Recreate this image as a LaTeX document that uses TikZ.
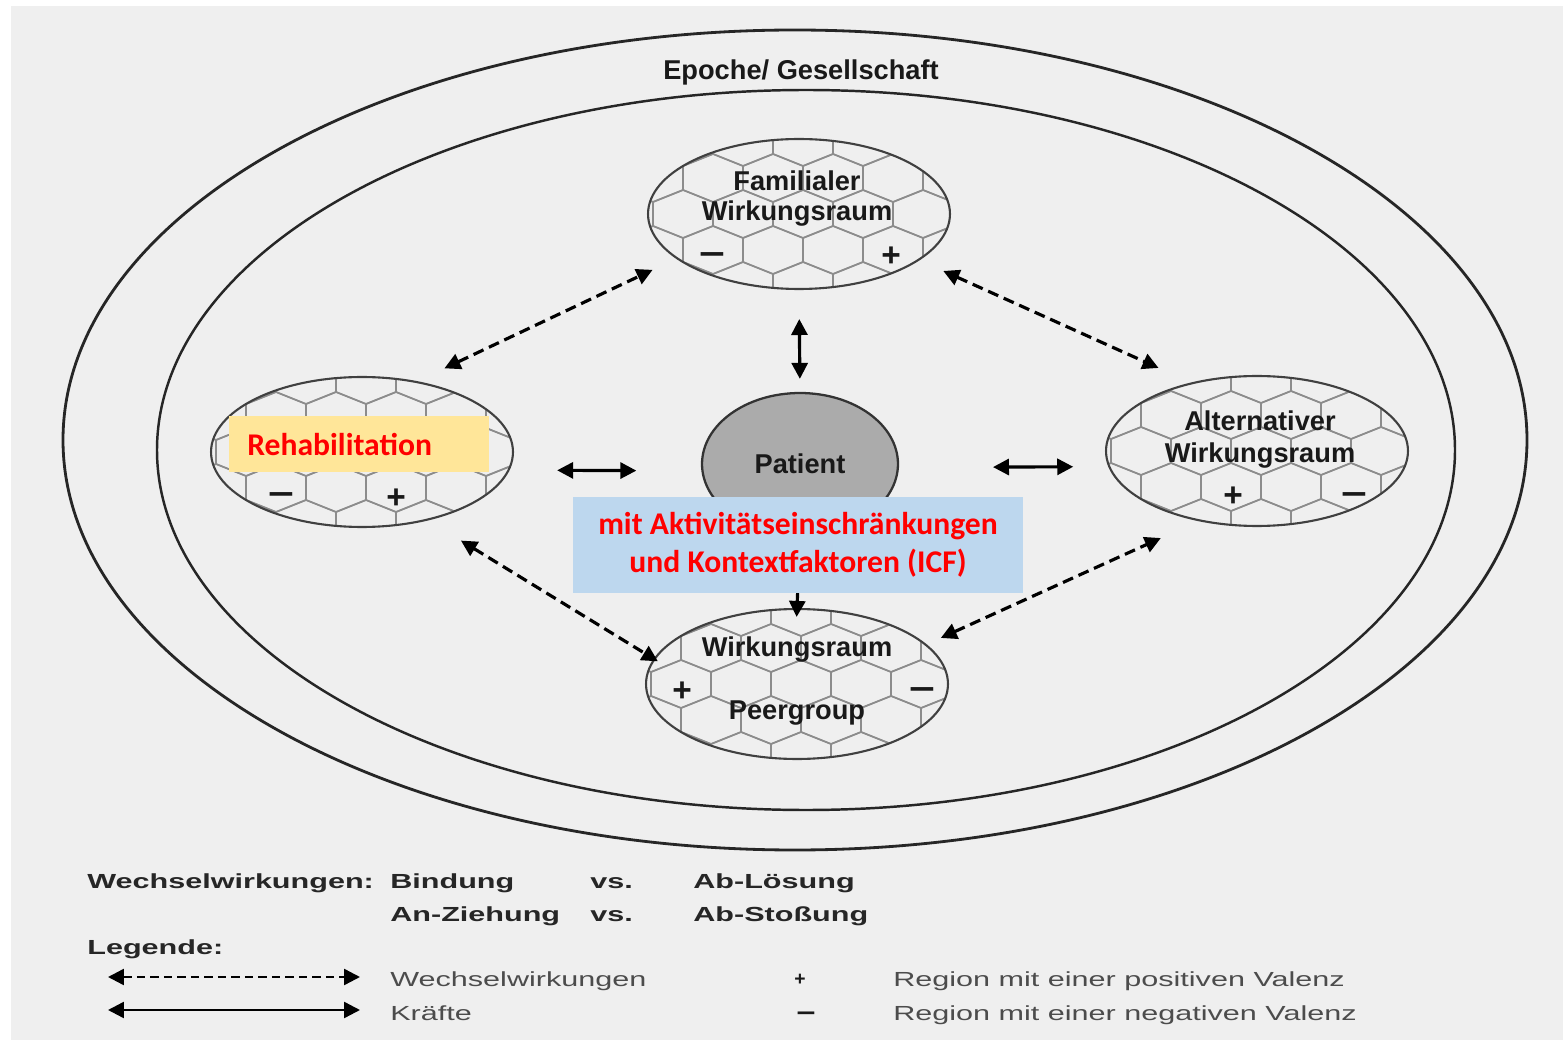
\documentclass[tikz,border=0pt]{standalone}
\usepackage{fontspec}
\setmainfont{Liberation Sans}
\newfontfamily\calibri{Carlito}
\usepackage{xcolor}
\usetikzlibrary{shapes.geometric}
\usetikzlibrary{arrows.meta}

\definecolor{hgrau}{HTML}{EFEFEF}
\definecolor{gelb}{HTML}{FFE699}
\definecolor{hblau}{HTML}{BDD7EE}
\definecolor{signalrot}{HTML}{FF0000}

\newcommand{\breit}[1]{\scalebox{1.5}[1]{#1}}
\newcommand{\minus}{\scalebox{1.35}[1]{−}}
% honeycomb inside one Wirkungsraum
\newcommand{\hexfeld}[1]{%
 \begin{scope}
  \clip (#1) ellipse [x radius=150, y radius=74];
  \begin{scope}[shift={(#1)}]
  \foreach \r in {-3,...,3}
   \foreach \c in {-4,...,4}{
    \pgfmathsetmacro{\hx}{60*\c+4+30*mod(\r+4,2)}
    \pgfmathsetmacro{\hy}{36*\r}
    \draw[hexlinie] (\hx-30,\hy-12) -- (\hx,\hy-24) -- (\hx+30,\hy-12) -- (\hx+30,\hy+12) -- (\hx,\hy+24) -- (\hx-30,\hy+12) -- cycle;
   }
  \end{scope}
 \end{scope}}

\begin{document}
\begin{tikzpicture}[x=0.02cm,y=-0.02cm,
  ring/.style={draw=black!85,line width=1.6pt},
  raum/.style={ellipse,draw=black!75,line width=1.2pt,minimum width=6.04cm,minimum height=3cm,inner sep=0pt},
  hexlinie/.style={draw=black!45,line width=0.9pt},
  lbl/.style={font=\bfseries\fontsize{15.5}{18}\selectfont,text=black!90,anchor=base,inner sep=0pt},
  vz/.style={font=\bfseries\fontsize{19}{20}\selectfont,text=black!90,inner sep=0pt},
  ww/.style={{Triangle[length=0.32cm,width=0.32cm]}-{Triangle[length=0.32cm,width=0.32cm]},dash pattern=on 0.22cm off 0.12cm,line width=1.8pt},
  kraft/.style={{Triangle[length=0.32cm,width=0.32cm]}-{Triangle[length=0.32cm,width=0.32cm]},line width=1.8pt},
  leg/.style={font=\bfseries\fontsize{11.6}{13}\selectfont,text=black!85,anchor=base west,inner sep=0pt},
  legd/.style={font=\fontsize{11.6}{13}\selectfont,text=black!70,anchor=base west,inner sep=0pt},
  rottext/.style={text=signalrot,font=\calibri\bfseries\fontsize{18}{21.7}\selectfont}]
 \useasboundingbox (0,0) rectangle (1563,1040);
 \fill[white] (0,0) rectangle (1563,1040);
 \fill[hgrau] (11,6) rectangle (1563,1040);

 % Epoche / Gesellschaft
 \draw[ring] (795,440) ellipse [x radius=732, y radius=410];
 \draw[ring,line width=1.4pt] (806,450) ellipse [x radius=649, y radius=360];
 \node[lbl] (epoche) at (801,80) {Epoche/ Gesellschaft};

 % Wirkungsraeume
 \coordinate (famc) at (799,214);
 \coordinate (lftc) at (362,452);
 \coordinate (rgtc) at (1257,451);
 \coordinate (peerc) at (797,684);
 \hexfeld{famc}
 \hexfeld{lftc}
 \hexfeld{rgtc}
 \hexfeld{peerc}
 \node[raum] (fam) at (famc) {};
 \node[raum] (lft) at (lftc) {};
 \node[raum] (rgt) at (rgtc) {};
 \node[raum] (peer) at (peerc) {};

 \node[lbl] (famtxt) at (797,191) {Familialer};
 \node[lbl] (famtxtb) at (797,221) {Wirkungsraum};
 \node[lbl] (alttxt) at (1260,431) {Alternativer};
 \node[lbl] (alttxtb) at (1260,463) {Wirkungsraum};
 \node[lbl] (peertxt) at (797,656) {Wirkungsraum};
 \node[lbl] (peertxtb) at (797,719) {Peergroup};

 \node[vz] (famminus) at (712,259) {\minus};
 \node[vz] (famplus) at (891,257) {+};
 \node[vz] (lftminus) at (281,499) {\minus};
 \node[vz] (lftplus) at (396,499) {+};
 \node[vz] (rgtplus) at (1233,497) {+};
 \node[vz] (rgtminus) at (1354,499) {\minus};
 \node[vz] (peerplus) at (682,692) {+};
 \node[vz] (peerminus) at (922,694) {\minus};

 \node[ellipse,draw=black!80,fill=black!33,line width=1.3pt,minimum width=3.92cm,minimum height=2.84cm,
   font=\bfseries\fontsize{15.5}{18}\selectfont,text=black!90] (pat) at (800,464) {Patient};

 % Wechselwirkungen
 \draw[ww,shorten <=0.6cm,shorten >=0.52cm] (lft.52) -- (fam.200);
 \draw[ww,shorten <=0.52cm,shorten >=0.71cm] (fam.-21) -- (rgt.134);
 \draw[ww,shorten <=0.77cm,shorten >=-0.1cm] (lft.-46) -- (peer.170);
 \draw[ww,shorten <=0.31cm,shorten >=0.82cm] (peer.17) -- (rgt.230);
 % Kraefte
 \draw[kraft,shorten <=0.58cm,shorten >=0.26cm] (fam.south) -- (pat.north);
 \draw[kraft,shorten <=0.95cm,shorten >=1.3cm] (lft.-7) -- (pat.184);
 \draw[kraft,shorten <=1.88cm,shorten >=0.7cm] (pat.-2) -- (rgt.186);
 \draw[kraft,shorten <=0.2cm,shorten >=-0.18cm] (pat.south) -- (peer.north);

 \node[fill=gelb,anchor=west,minimum height=1.12cm,text width=4.48cm,inner xsep=0.36cm,align=left,rottext] (reha) at (229,444) {Rehabilitation};
 \node[fill=hblau,minimum width=9cm,minimum height=1.92cm,align=center,rottext] (icf) at (798,545) {mit Aktivitätseinschränkungen\\und Kontextfaktoren (ICF)};

 % Legende
 \node[leg] (wwtitel) at (87,888) {\breit{Wechselwirkungen:}};
 \node[leg] (bindung) at (390,888) {\breit{Bindung}};
 \node[leg] (vsa) at (590,888) {\breit{vs.}};
 \node[leg] (loesung) at (693,888) {\breit{Ab-Lösung}};
 \node[leg] (ziehung) at (390,921) {\breit{An-Ziehung}};
 \node[leg] (vsb) at (590,921) {\breit{vs.}};
 \node[leg] (stossung) at (693,921) {\breit{Ab-Stoßung}};
 \node[leg] (legende) at (87,954) {\breit{Legende:}};
 \coordinate (wwa) at (108,977);
 \coordinate (wwb) at (360,977);
 \coordinate (kra) at (108,1010);
 \coordinate (krb) at (360,1010);
 \draw[ww,line width=1.4pt,dash pattern=on 0.17cm off 0.1cm] (wwa) -- (wwb);
 \draw[kraft,line width=1.4pt] (kra) -- (krb);
 \node[legd] (wwtext) at (390,986) {\breit{Wechselwirkungen}};
 \node[legd] (krtext) at (390,1020) {\breit{Kräfte}};
 \node[vz,font=\bfseries\fontsize{11}{12}\selectfont] (legplus) at (800,980) {+};
 \node[vz,font=\bfseries\fontsize{14}{12}\selectfont] (legminus) at (806,1017) {\minus};
 \node[legd] (postext) at (893,986) {\breit{Region mit einer positiven Valenz}};
 \node[legd] (negtext) at (893,1020) {\breit{Region mit einer negativen Valenz}};
\end{tikzpicture}
\end{document}
